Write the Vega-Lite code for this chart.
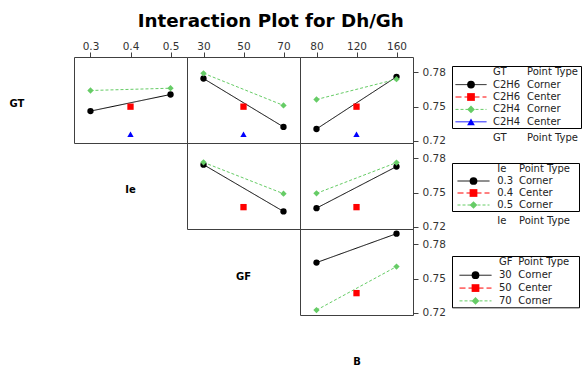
{
  "$schema": "https://vega.github.io/schema/vega-lite/v6.json",
  "padding": {"left": 0, "top": 12, "right": 0, "bottom": 0},
  "title": {"text": "Interaction Plot for Dh/Gh", "fontSize": 18.3, "fontWeight": "bold", "font": "DejaVu Sans", "anchor": "middle", "dx": -20, "offset": 9, "color": "#000000"},
  "config": {
    "view": {"stroke": null},
    "font": "DejaVu Sans",
    "axis": {"labelFont": "DejaVu Sans", "labelFontSize": 10.5, "labelColor": "#333333", "tickColor": "#404040", "domain": false, "grid": false, "titleFont": "DejaVu Sans"},
    "text": {"font": "DejaVu Sans", "fontSize": 10, "color": "#222222"}
  },
  "datasets": {
    "pts": [
      {"row": "GT", "col": "Ie", "x": 0.3, "y": 0.7460, "series": "C2H6 Corner", "pt": "Corner"},
      {"row": "GT", "col": "Ie", "x": 0.5, "y": 0.7606, "series": "C2H6 Corner", "pt": "Corner"},
      {"row": "GT", "col": "Ie", "x": 0.3, "y": 0.7641, "series": "C2H4 Corner", "pt": "Corner"},
      {"row": "GT", "col": "Ie", "x": 0.5, "y": 0.7661, "series": "C2H4 Corner", "pt": "Corner"},
      {"row": "GT", "col": "Ie", "x": 0.4, "y": 0.7499, "series": "C2H6 Center", "pt": "Center"},
      {"row": "GT", "col": "Ie", "x": 0.4, "y": 0.7257, "series": "C2H4 Center", "pt": "Center"},
      {"row": "GT", "col": "GF", "x": 30, "y": 0.7746, "series": "C2H6 Corner", "pt": "Corner"},
      {"row": "GT", "col": "GF", "x": 70, "y": 0.7321, "series": "C2H6 Corner", "pt": "Corner"},
      {"row": "GT", "col": "GF", "x": 30, "y": 0.7792, "series": "C2H4 Corner", "pt": "Corner"},
      {"row": "GT", "col": "GF", "x": 70, "y": 0.7510, "series": "C2H4 Corner", "pt": "Corner"},
      {"row": "GT", "col": "GF", "x": 50, "y": 0.7499, "series": "C2H6 Center", "pt": "Center"},
      {"row": "GT", "col": "GF", "x": 50, "y": 0.7257, "series": "C2H4 Center", "pt": "Center"},
      {"row": "GT", "col": "B", "x": 80, "y": 0.7303, "series": "C2H6 Corner", "pt": "Corner"},
      {"row": "GT", "col": "B", "x": 160, "y": 0.7761, "series": "C2H6 Corner", "pt": "Corner"},
      {"row": "GT", "col": "B", "x": 80, "y": 0.7562, "series": "C2H4 Corner", "pt": "Corner"},
      {"row": "GT", "col": "B", "x": 160, "y": 0.7740, "series": "C2H4 Corner", "pt": "Corner"},
      {"row": "GT", "col": "B", "x": 120, "y": 0.7499, "series": "C2H6 Center", "pt": "Center"},
      {"row": "GT", "col": "B", "x": 120, "y": 0.7257, "series": "C2H4 Center", "pt": "Center"},
      {"row": "Ie", "col": "GF", "x": 30, "y": 0.7745, "series": "0.3 Corner", "pt": "Corner"},
      {"row": "Ie", "col": "GF", "x": 70, "y": 0.7334, "series": "0.3 Corner", "pt": "Corner"},
      {"row": "Ie", "col": "GF", "x": 30, "y": 0.7765, "series": "0.5 Corner", "pt": "Corner"},
      {"row": "Ie", "col": "GF", "x": 70, "y": 0.7490, "series": "0.5 Corner", "pt": "Corner"},
      {"row": "Ie", "col": "GF", "x": 50, "y": 0.7372, "series": "0.4 Center", "pt": "Center"},
      {"row": "Ie", "col": "B", "x": 80, "y": 0.7363, "series": "0.3 Corner", "pt": "Corner"},
      {"row": "Ie", "col": "B", "x": 160, "y": 0.7728, "series": "0.3 Corner", "pt": "Corner"},
      {"row": "Ie", "col": "B", "x": 80, "y": 0.7493, "series": "0.5 Corner", "pt": "Corner"},
      {"row": "Ie", "col": "B", "x": 160, "y": 0.7763, "series": "0.5 Corner", "pt": "Corner"},
      {"row": "Ie", "col": "B", "x": 120, "y": 0.7372, "series": "0.4 Center", "pt": "Center"},
      {"row": "GF", "col": "B", "x": 80, "y": 0.7640, "series": "30 Corner", "pt": "Corner"},
      {"row": "GF", "col": "B", "x": 160, "y": 0.7894, "series": "30 Corner", "pt": "Corner"},
      {"row": "GF", "col": "B", "x": 80, "y": 0.7223, "series": "70 Corner", "pt": "Corner"},
      {"row": "GF", "col": "B", "x": 160, "y": 0.7605, "series": "70 Corner", "pt": "Corner"},
      {"row": "GF", "col": "B", "x": 120, "y": 0.7372, "series": "50 Center", "pt": "Center"}
    ],
    "leg": [
      {"leg": "GT", "series": "hdr", "lev": "GT", "pt": "Point Type"},
      {"leg": "GT", "series": "C2H6 Corner", "lev": "C2H6", "pt": "Corner"},
      {"leg": "GT", "series": "C2H6 Center", "lev": "C2H6", "pt": "Center"},
      {"leg": "GT", "series": "C2H4 Corner", "lev": "C2H4", "pt": "Corner"},
      {"leg": "GT", "series": "C2H4 Center", "lev": "C2H4", "pt": "Center"},
      {"leg": "Ie", "series": "hdr", "lev": "Ie", "pt": "Point Type"},
      {"leg": "Ie", "series": "0.3 Corner", "lev": "0.3", "pt": "Corner"},
      {"leg": "Ie", "series": "0.4 Center", "lev": "0.4", "pt": "Center"},
      {"leg": "Ie", "series": "0.5 Corner", "lev": "0.5", "pt": "Corner"},
      {"leg": "GF", "series": "hdr", "lev": "GF", "pt": "Point Type"},
      {"leg": "GF", "series": "30 Corner", "lev": "30", "pt": "Corner"},
      {"leg": "GF", "series": "50 Center", "lev": "50", "pt": "Center"},
      {"leg": "GF", "series": "70 Corner", "lev": "70", "pt": "Corner"}
    ],
    "labels": [{"label": "GT"}, {"label": "Ie"}, {"label": "GF"}]
  },
  "hconcat": [
    {
      "columns": 4,
      "spacing": 0,
      "bounds": "flush",
      "align": "each",
      "concat": [
        {"width": 74, "height": 86, "data": {"name": "labels"}, "transform": [{"filter": "datum.label == 'GT'"}], "mark": {"type": "text", "fontWeight": "bold", "fontSize": 10, "dx": -20, "dy": 4, "color": "#000000"}, "encoding": {"text": {"field": "label"}}},
        {
          "width": 113, "height": 86, "view": {"stroke": "#404040", "strokeWidth": 1},
          "data": {"name": "pts"}, "transform": [{"filter": "datum.row == 'GT' && datum.col == 'Ie'"}],
          "encoding": {
            "x": {"field": "x", "type": "quantitative", "scale": {"domain": [0.2588, 0.5412], "nice": false, "zero": false}, "axis": {"orient": "top", "values": [0.3, 0.4, 0.5], "format": ".1f", "title": null, "tickSize": 5, "labelPadding": 1}},
            "y": {"field": "y", "type": "quantitative", "scale": {"domain": [0.718, 0.7935], "nice": false, "zero": false}, "axis": null},
            "color": {"field": "series", "type": "nominal", "legend": null, "scale": {"domain": ["C2H6 Corner","C2H6 Center","C2H4 Corner","C2H4 Center","0.3 Corner","0.4 Center","0.5 Corner","30 Corner","50 Center","70 Corner"], "range": ["#000000","#FF0000","#66CC66","#0000FF","#000000","#FF0000","#66CC66","#000000","#FF0000","#66CC66"]}}
          },
          "layer": [
            {"transform": [{"filter": "datum.pt == 'Corner'"}], "mark": {"type": "line", "strokeWidth": 1}, "encoding": {"strokeDash": {"field": "series", "type": "nominal", "legend": null, "scale": {"domain": ["C2H6 Corner","C2H6 Center","C2H4 Corner","C2H4 Center","0.3 Corner","0.4 Center","0.5 Corner","30 Corner","50 Center","70 Corner"], "range": [[1,0],[6,3],[3,2],[1,0],[1,0],[6,3],[3,2],[1,0],[6,3],[3,2]]}}}},
            {"mark": {"type": "point", "filled": true, "opacity": 1, "size": 40}, "encoding": {"shape": {"field": "series", "type": "nominal", "legend": null, "scale": {"domain": ["C2H6 Corner","C2H6 Center","C2H4 Corner","C2H4 Center","0.3 Corner","0.4 Center","0.5 Corner","30 Corner","50 Center","70 Corner"], "range": ["circle","square","diamond","triangle-up","circle","square","diamond","circle","square","diamond"]}}}}
          ]
        },
        {
          "width": 113, "height": 86, "view": {"stroke": "#404040", "strokeWidth": 1},
          "data": {"name": "pts"}, "transform": [{"filter": "datum.row == 'GT' && datum.col == 'GF'"}],
          "encoding": {
            "x": {"field": "x", "type": "quantitative", "scale": {"domain": [21.75, 78.25], "nice": false, "zero": false}, "axis": {"orient": "top", "values": [30, 50, 70], "title": null, "tickSize": 5, "labelPadding": 1}},
            "y": {"field": "y", "type": "quantitative", "scale": {"domain": [0.718, 0.7935], "nice": false, "zero": false}, "axis": null},
            "color": {"field": "series", "type": "nominal", "legend": null, "scale": {"domain": ["C2H6 Corner","C2H6 Center","C2H4 Corner","C2H4 Center","0.3 Corner","0.4 Center","0.5 Corner","30 Corner","50 Center","70 Corner"], "range": ["#000000","#FF0000","#66CC66","#0000FF","#000000","#FF0000","#66CC66","#000000","#FF0000","#66CC66"]}}
          },
          "layer": [
            {"transform": [{"filter": "datum.pt == 'Corner'"}], "mark": {"type": "line", "strokeWidth": 1}, "encoding": {"strokeDash": {"field": "series", "type": "nominal", "legend": null, "scale": {"domain": ["C2H6 Corner","C2H6 Center","C2H4 Corner","C2H4 Center","0.3 Corner","0.4 Center","0.5 Corner","30 Corner","50 Center","70 Corner"], "range": [[1,0],[6,3],[3,2],[1,0],[1,0],[6,3],[3,2],[1,0],[6,3],[3,2]]}}}},
            {"mark": {"type": "point", "filled": true, "opacity": 1, "size": 40}, "encoding": {"shape": {"field": "series", "type": "nominal", "legend": null, "scale": {"domain": ["C2H6 Corner","C2H6 Center","C2H4 Corner","C2H4 Center","0.3 Corner","0.4 Center","0.5 Corner","30 Corner","50 Center","70 Corner"], "range": ["circle","square","diamond","triangle-up","circle","square","diamond","circle","square","diamond"]}}}}
          ]
        },
        {
          "width": 113, "height": 86, "view": {"stroke": "#404040", "strokeWidth": 1},
          "data": {"name": "pts"}, "transform": [{"filter": "datum.row == 'GT' && datum.col == 'B'"}],
          "encoding": {
            "x": {"field": "x", "type": "quantitative", "scale": {"domain": [63.5, 176.5], "nice": false, "zero": false}, "axis": {"orient": "top", "values": [80, 120, 160], "title": null, "tickSize": 5, "labelPadding": 1}},
            "y": {"field": "y", "type": "quantitative", "scale": {"domain": [0.718, 0.7935], "nice": false, "zero": false}, "axis": {"orient": "right", "values": [0.72, 0.75, 0.78], "format": ".2f", "title": null, "tickSize": 5, "labelPadding": 4}},
            "color": {"field": "series", "type": "nominal", "legend": null, "scale": {"domain": ["C2H6 Corner","C2H6 Center","C2H4 Corner","C2H4 Center","0.3 Corner","0.4 Center","0.5 Corner","30 Corner","50 Center","70 Corner"], "range": ["#000000","#FF0000","#66CC66","#0000FF","#000000","#FF0000","#66CC66","#000000","#FF0000","#66CC66"]}}
          },
          "layer": [
            {"transform": [{"filter": "datum.pt == 'Corner'"}], "mark": {"type": "line", "strokeWidth": 1}, "encoding": {"strokeDash": {"field": "series", "type": "nominal", "legend": null, "scale": {"domain": ["C2H6 Corner","C2H6 Center","C2H4 Corner","C2H4 Center","0.3 Corner","0.4 Center","0.5 Corner","30 Corner","50 Center","70 Corner"], "range": [[1,0],[6,3],[3,2],[1,0],[1,0],[6,3],[3,2],[1,0],[6,3],[3,2]]}}}},
            {"mark": {"type": "point", "filled": true, "opacity": 1, "size": 40}, "encoding": {"shape": {"field": "series", "type": "nominal", "legend": null, "scale": {"domain": ["C2H6 Corner","C2H6 Center","C2H4 Corner","C2H4 Center","0.3 Corner","0.4 Center","0.5 Corner","30 Corner","50 Center","70 Corner"], "range": ["circle","square","diamond","triangle-up","circle","square","diamond","circle","square","diamond"]}}}}
          ]
        },
        {"width": 74, "height": 86, "data": {"values": [{}]}, "mark": "text", "encoding": {}},
        {"width": 113, "height": 86, "data": {"name": "labels"}, "transform": [{"filter": "datum.label == 'Ie'"}], "mark": {"type": "text", "fontWeight": "bold", "fontSize": 10, "dy": 4, "color": "#000000"}, "encoding": {"text": {"field": "label"}}},
        {
          "width": 113, "height": 86, "view": {"stroke": "#404040", "strokeWidth": 1},
          "data": {"name": "pts"}, "transform": [{"filter": "datum.row == 'Ie' && datum.col == 'GF'"}],
          "encoding": {
            "x": {"field": "x", "type": "quantitative", "scale": {"domain": [21.75, 78.25], "nice": false, "zero": false}, "axis": null},
            "y": {"field": "y", "type": "quantitative", "scale": {"domain": [0.718, 0.7935], "nice": false, "zero": false}, "axis": null},
            "color": {"field": "series", "type": "nominal", "legend": null, "scale": {"domain": ["C2H6 Corner","C2H6 Center","C2H4 Corner","C2H4 Center","0.3 Corner","0.4 Center","0.5 Corner","30 Corner","50 Center","70 Corner"], "range": ["#000000","#FF0000","#66CC66","#0000FF","#000000","#FF0000","#66CC66","#000000","#FF0000","#66CC66"]}}
          },
          "layer": [
            {"transform": [{"filter": "datum.pt == 'Corner'"}], "mark": {"type": "line", "strokeWidth": 1}, "encoding": {"strokeDash": {"field": "series", "type": "nominal", "legend": null, "scale": {"domain": ["C2H6 Corner","C2H6 Center","C2H4 Corner","C2H4 Center","0.3 Corner","0.4 Center","0.5 Corner","30 Corner","50 Center","70 Corner"], "range": [[1,0],[6,3],[3,2],[1,0],[1,0],[6,3],[3,2],[1,0],[6,3],[3,2]]}}}},
            {"mark": {"type": "point", "filled": true, "opacity": 1, "size": 40}, "encoding": {"shape": {"field": "series", "type": "nominal", "legend": null, "scale": {"domain": ["C2H6 Corner","C2H6 Center","C2H4 Corner","C2H4 Center","0.3 Corner","0.4 Center","0.5 Corner","30 Corner","50 Center","70 Corner"], "range": ["circle","square","diamond","triangle-up","circle","square","diamond","circle","square","diamond"]}}}}
          ]
        },
        {
          "width": 113, "height": 86, "view": {"stroke": "#404040", "strokeWidth": 1},
          "data": {"name": "pts"}, "transform": [{"filter": "datum.row == 'Ie' && datum.col == 'B'"}],
          "encoding": {
            "x": {"field": "x", "type": "quantitative", "scale": {"domain": [63.5, 176.5], "nice": false, "zero": false}, "axis": null},
            "y": {"field": "y", "type": "quantitative", "scale": {"domain": [0.718, 0.7935], "nice": false, "zero": false}, "axis": {"orient": "right", "values": [0.72, 0.75, 0.78], "format": ".2f", "title": null, "tickSize": 5, "labelPadding": 4}},
            "color": {"field": "series", "type": "nominal", "legend": null, "scale": {"domain": ["C2H6 Corner","C2H6 Center","C2H4 Corner","C2H4 Center","0.3 Corner","0.4 Center","0.5 Corner","30 Corner","50 Center","70 Corner"], "range": ["#000000","#FF0000","#66CC66","#0000FF","#000000","#FF0000","#66CC66","#000000","#FF0000","#66CC66"]}}
          },
          "layer": [
            {"transform": [{"filter": "datum.pt == 'Corner'"}], "mark": {"type": "line", "strokeWidth": 1}, "encoding": {"strokeDash": {"field": "series", "type": "nominal", "legend": null, "scale": {"domain": ["C2H6 Corner","C2H6 Center","C2H4 Corner","C2H4 Center","0.3 Corner","0.4 Center","0.5 Corner","30 Corner","50 Center","70 Corner"], "range": [[1,0],[6,3],[3,2],[1,0],[1,0],[6,3],[3,2],[1,0],[6,3],[3,2]]}}}},
            {"mark": {"type": "point", "filled": true, "opacity": 1, "size": 40}, "encoding": {"shape": {"field": "series", "type": "nominal", "legend": null, "scale": {"domain": ["C2H6 Corner","C2H6 Center","C2H4 Corner","C2H4 Center","0.3 Corner","0.4 Center","0.5 Corner","30 Corner","50 Center","70 Corner"], "range": ["circle","square","diamond","triangle-up","circle","square","diamond","circle","square","diamond"]}}}}
          ]
        },
        {"width": 74, "height": 86, "data": {"values": [{}]}, "mark": "text", "encoding": {}},
        {"width": 113, "height": 86, "data": {"values": [{}]}, "mark": "text", "encoding": {}},
        {"width": 113, "height": 86, "data": {"name": "labels"}, "transform": [{"filter": "datum.label == 'GF'"}], "mark": {"type": "text", "fontWeight": "bold", "fontSize": 10, "dy": 5, "color": "#000000"}, "encoding": {"text": {"field": "label"}}},
        {
          "width": 113, "height": 86, "view": {"stroke": "#404040", "strokeWidth": 1},
          "data": {"name": "pts"}, "transform": [{"filter": "datum.row == 'GF' && datum.col == 'B'"}],
          "encoding": {
            "x": {"field": "x", "type": "quantitative", "scale": {"domain": [63.5, 176.5], "nice": false, "zero": false}, "axis": {"orient": "bottom", "title": "B", "labels": false, "ticks": false, "titleFontSize": 10, "titleFontWeight": "bold", "titleColor": "#000000", "titlePadding": 41}},
            "y": {"field": "y", "type": "quantitative", "scale": {"domain": [0.718, 0.7935], "nice": false, "zero": false}, "axis": {"orient": "right", "values": [0.72, 0.75, 0.78], "format": ".2f", "title": null, "tickSize": 5, "labelPadding": 4}},
            "color": {"field": "series", "type": "nominal", "legend": null, "scale": {"domain": ["C2H6 Corner","C2H6 Center","C2H4 Corner","C2H4 Center","0.3 Corner","0.4 Center","0.5 Corner","30 Corner","50 Center","70 Corner"], "range": ["#000000","#FF0000","#66CC66","#0000FF","#000000","#FF0000","#66CC66","#000000","#FF0000","#66CC66"]}}
          },
          "layer": [
            {"transform": [{"filter": "datum.pt == 'Corner'"}], "mark": {"type": "line", "strokeWidth": 1}, "encoding": {"strokeDash": {"field": "series", "type": "nominal", "legend": null, "scale": {"domain": ["C2H6 Corner","C2H6 Center","C2H4 Corner","C2H4 Center","0.3 Corner","0.4 Center","0.5 Corner","30 Corner","50 Center","70 Corner"], "range": [[1,0],[6,3],[3,2],[1,0],[1,0],[6,3],[3,2],[1,0],[6,3],[3,2]]}}}},
            {"mark": {"type": "point", "filled": true, "opacity": 1, "size": 40}, "encoding": {"shape": {"field": "series", "type": "nominal", "legend": null, "scale": {"domain": ["C2H6 Corner","C2H6 Center","C2H4 Corner","C2H4 Center","0.3 Corner","0.4 Center","0.5 Corner","30 Corner","50 Center","70 Corner"], "range": ["circle","square","diamond","triangle-up","circle","square","diamond","circle","square","diamond"]}}}}
          ]
        }
      ]
    },
    {
      "spacing": 0,
      "bounds": "flush",
      "vconcat": [
        {"width": 129, "height": 8.6, "data": {"values": [{}]}, "mark": "text", "encoding": {}},
        {
          "width": 129, "height": 62, "view": {"stroke": "#000000", "strokeWidth": 1},
          "data": {"name": "leg"}, "transform": [{"filter": "datum.leg == 'GT'"}],
          "encoding": {"y": {"field": "series", "type": "nominal", "scale": {"type": "point", "domain": ["hdr","C2H6 Corner","C2H6 Center","C2H4 Corner","C2H4 Center"], "padding": 0.5}, "axis": null}},
          "layer": [
            {"mark": {"type": "text", "align": "left", "baseline": "middle", "dx": -6}, "encoding": {"x": {"datum": "level", "type": "nominal", "scale": {"type": "point", "domain": ["swatch","level","type"], "range": [19, 75], "padding": 0}, "axis": null}, "text": {"field": "lev"}}},
            {"mark": {"type": "text", "align": "left", "baseline": "middle"}, "encoding": {"x": {"datum": "type", "type": "nominal"}, "text": {"field": "pt"}}},
            {"transform": [{"filter": "datum.series != 'hdr'"}], "mark": {"type": "point", "shape": "M-1,0L1,0", "size": 961, "filled": false, "strokeWidth": 1, "opacity": 1}, "encoding": {"x": {"datum": "swatch", "type": "nominal"}, "color": {"field": "series", "type": "nominal", "legend": null, "scale": {"domain": ["C2H6 Corner","C2H6 Center","C2H4 Corner","C2H4 Center","0.3 Corner","0.4 Center","0.5 Corner","30 Corner","50 Center","70 Corner"], "range": ["#000000","#FF0000","#66CC66","#0000FF","#000000","#FF0000","#66CC66","#000000","#FF0000","#66CC66"]}}, "strokeDash": {"field": "series", "type": "nominal", "legend": null, "scale": {"domain": ["C2H6 Corner","C2H6 Center","C2H4 Corner","C2H4 Center","0.3 Corner","0.4 Center","0.5 Corner","30 Corner","50 Center","70 Corner"], "range": [[1,0],[6,3],[3,2],[1,0],[1,0],[6,3],[3,2],[1,0],[6,3],[3,2]]}}}},
            {"transform": [{"filter": "datum.series != 'hdr'"}], "mark": {"type": "point", "filled": true, "size": 60, "opacity": 1}, "encoding": {"x": {"datum": "swatch", "type": "nominal"}, "color": {"field": "series", "type": "nominal", "legend": null, "scale": {"domain": ["C2H6 Corner","C2H6 Center","C2H4 Corner","C2H4 Center","0.3 Corner","0.4 Center","0.5 Corner","30 Corner","50 Center","70 Corner"], "range": ["#000000","#FF0000","#66CC66","#0000FF","#000000","#FF0000","#66CC66","#000000","#FF0000","#66CC66"]}}, "shape": {"field": "series", "type": "nominal", "legend": null, "scale": {"domain": ["C2H6 Corner","C2H6 Center","C2H4 Corner","C2H4 Center","0.3 Corner","0.4 Center","0.5 Corner","30 Corner","50 Center","70 Corner"], "range": ["circle","square","diamond","triangle-up","circle","square","diamond","circle","square","diamond"]}}}}
          ]
        },
        {
          "width": 129, "height": 19.4,
          "data": {"name": "leg"}, "transform": [{"filter": "datum.leg == 'GT' && datum.series == 'hdr'"}],
          "layer": [
            {"mark": {"type": "text", "align": "left", "baseline": "middle", "dx": -6}, "encoding": {"x": {"datum": "level", "type": "nominal", "scale": {"type": "point", "domain": ["swatch","level","type"], "range": [19, 75], "padding": 0}, "axis": null}, "text": {"field": "lev"}}},
            {"mark": {"type": "text", "align": "left", "baseline": "middle"}, "encoding": {"x": {"datum": "type", "type": "nominal"}, "text": {"field": "pt"}}}
          ]
        },
        {"width": 129, "height": 14.3, "data": {"values": [{}]}, "mark": "text", "encoding": {}},
        {
          "width": 127, "height": 48, "view": {"stroke": "#000000", "strokeWidth": 1},
          "data": {"name": "leg"}, "transform": [{"filter": "datum.leg == 'Ie'"}],
          "encoding": {"y": {"field": "series", "type": "nominal", "scale": {"type": "point", "domain": ["hdr","0.3 Corner","0.4 Center","0.5 Corner"], "padding": 0.5}, "axis": null}},
          "layer": [
            {"mark": {"type": "text", "align": "left", "baseline": "middle", "dx": 1}, "encoding": {"x": {"datum": "level", "type": "nominal", "scale": {"type": "point", "domain": ["swatch","level","type"], "range": [21.5, 67], "padding": 0}, "axis": null}, "text": {"field": "lev"}}},
            {"mark": {"type": "text", "align": "left", "baseline": "middle"}, "encoding": {"x": {"datum": "type", "type": "nominal"}, "text": {"field": "pt"}}},
            {"transform": [{"filter": "datum.series != 'hdr'"}], "mark": {"type": "point", "shape": "M-1,0L1,0", "size": 1024, "filled": false, "strokeWidth": 1, "opacity": 1}, "encoding": {"x": {"datum": "swatch", "type": "nominal"}, "color": {"field": "series", "type": "nominal", "legend": null, "scale": {"domain": ["C2H6 Corner","C2H6 Center","C2H4 Corner","C2H4 Center","0.3 Corner","0.4 Center","0.5 Corner","30 Corner","50 Center","70 Corner"], "range": ["#000000","#FF0000","#66CC66","#0000FF","#000000","#FF0000","#66CC66","#000000","#FF0000","#66CC66"]}}, "strokeDash": {"field": "series", "type": "nominal", "legend": null, "scale": {"domain": ["C2H6 Corner","C2H6 Center","C2H4 Corner","C2H4 Center","0.3 Corner","0.4 Center","0.5 Corner","30 Corner","50 Center","70 Corner"], "range": [[1,0],[6,3],[3,2],[1,0],[1,0],[6,3],[3,2],[1,0],[6,3],[3,2]]}}}},
            {"transform": [{"filter": "datum.series != 'hdr'"}], "mark": {"type": "point", "filled": true, "size": 60, "opacity": 1}, "encoding": {"x": {"datum": "swatch", "type": "nominal"}, "color": {"field": "series", "type": "nominal", "legend": null, "scale": {"domain": ["C2H6 Corner","C2H6 Center","C2H4 Corner","C2H4 Center","0.3 Corner","0.4 Center","0.5 Corner","30 Corner","50 Center","70 Corner"], "range": ["#000000","#FF0000","#66CC66","#0000FF","#000000","#FF0000","#66CC66","#000000","#FF0000","#66CC66"]}}, "shape": {"field": "series", "type": "nominal", "legend": null, "scale": {"domain": ["C2H6 Corner","C2H6 Center","C2H4 Corner","C2H4 Center","0.3 Corner","0.4 Center","0.5 Corner","30 Corner","50 Center","70 Corner"], "range": ["circle","square","diamond","triangle-up","circle","square","diamond","circle","square","diamond"]}}}}
          ]
        },
        {
          "width": 127, "height": 20.6,
          "data": {"name": "leg"}, "transform": [{"filter": "datum.leg == 'Ie' && datum.series == 'hdr'"}],
          "layer": [
            {"mark": {"type": "text", "align": "left", "baseline": "middle", "dx": 1}, "encoding": {"x": {"datum": "level", "type": "nominal", "scale": {"type": "point", "domain": ["swatch","level","type"], "range": [21.5, 67], "padding": 0}, "axis": null}, "text": {"field": "lev"}}},
            {"mark": {"type": "text", "align": "left", "baseline": "middle"}, "encoding": {"x": {"datum": "type", "type": "nominal"}, "text": {"field": "pt"}}}
          ]
        },
        {"width": 127, "height": 23.1, "data": {"values": [{}]}, "mark": "text", "encoding": {}},
        {
          "width": 127, "height": 51.3, "view": {"stroke": "#000000", "strokeWidth": 1},
          "data": {"name": "leg"}, "transform": [{"filter": "datum.leg == 'GF'"}],
          "encoding": {"y": {"field": "series", "type": "nominal", "scale": {"type": "point", "domain": ["hdr","30 Corner","50 Center","70 Corner"], "padding": 0.5}, "axis": null}},
          "layer": [
            {"mark": {"type": "text", "align": "left", "baseline": "middle", "dx": 2}, "encoding": {"x": {"datum": "level", "type": "nominal", "scale": {"type": "point", "domain": ["swatch","level","type"], "range": [23.5, 66.3], "padding": 0}, "axis": null}, "text": {"field": "lev"}}},
            {"mark": {"type": "text", "align": "left", "baseline": "middle"}, "encoding": {"x": {"datum": "type", "type": "nominal"}, "text": {"field": "pt"}}},
            {"transform": [{"filter": "datum.series != 'hdr'"}], "mark": {"type": "point", "shape": "M-1,0L1,0", "size": 1024, "filled": false, "strokeWidth": 1, "opacity": 1}, "encoding": {"x": {"datum": "swatch", "type": "nominal"}, "color": {"field": "series", "type": "nominal", "legend": null, "scale": {"domain": ["C2H6 Corner","C2H6 Center","C2H4 Corner","C2H4 Center","0.3 Corner","0.4 Center","0.5 Corner","30 Corner","50 Center","70 Corner"], "range": ["#000000","#FF0000","#66CC66","#0000FF","#000000","#FF0000","#66CC66","#000000","#FF0000","#66CC66"]}}, "strokeDash": {"field": "series", "type": "nominal", "legend": null, "scale": {"domain": ["C2H6 Corner","C2H6 Center","C2H4 Corner","C2H4 Center","0.3 Corner","0.4 Center","0.5 Corner","30 Corner","50 Center","70 Corner"], "range": [[1,0],[6,3],[3,2],[1,0],[1,0],[6,3],[3,2],[1,0],[6,3],[3,2]]}}}},
            {"transform": [{"filter": "datum.series != 'hdr'"}], "mark": {"type": "point", "filled": true, "size": 60, "opacity": 1}, "encoding": {"x": {"datum": "swatch", "type": "nominal"}, "color": {"field": "series", "type": "nominal", "legend": null, "scale": {"domain": ["C2H6 Corner","C2H6 Center","C2H4 Corner","C2H4 Center","0.3 Corner","0.4 Center","0.5 Corner","30 Corner","50 Center","70 Corner"], "range": ["#000000","#FF0000","#66CC66","#0000FF","#000000","#FF0000","#66CC66","#000000","#FF0000","#66CC66"]}}, "shape": {"field": "series", "type": "nominal", "legend": null, "scale": {"domain": ["C2H6 Corner","C2H6 Center","C2H4 Corner","C2H4 Center","0.3 Corner","0.4 Center","0.5 Corner","30 Corner","50 Center","70 Corner"], "range": ["circle","square","diamond","triangle-up","circle","square","diamond","circle","square","diamond"]}}}}
          ]
        }
      ]
    }
  ],
  "spacing": 5,
  "bounds": "full"
}
